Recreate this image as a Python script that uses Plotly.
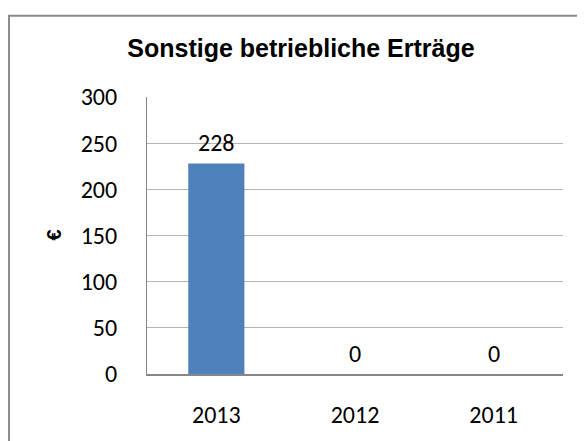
import plotly.graph_objects as go

categories = ["2013", "2012", "2011"]
values = [228, 0, 0]
title_text = "Sonstige betriebliche Erträge"
y_label = "€"
y_ticks = [0, 50, 100, 150, 200, 250, 300]

# page body has an 8px margin, so the figure is drawn 8px smaller and offset
W, H = 577, 433
L, R, T, B = 139, 555, 89, 375
FONT = "Carlito, Lato, Open Sans, sans-serif"
FS = 24

fig = go.Figure()
fig.add_trace(go.Bar(
    x=categories, y=values,
    marker=dict(color="#4F81BD", line=dict(width=0)),
    width=0.405,
    hoverinfo="skip",
))

for i, v in enumerate(values):
    fig.add_annotation(x=i, y=v, xref="x", yref="y", text=str(v), showarrow=False,
                       yshift=21, font=dict(family=FONT, size=FS, color="#000000"))

fig.add_annotation(xref="paper", yref="paper", x=(45 - L) / (R - L), y=(B - 232) / (B - T),
                   xanchor="center", yanchor="middle",
                   text="<b>" + y_label + "</b>", showarrow=False, textangle=-90,
                   font=dict(family="Liberation Sans", size=20, color="#000000"))

# outer border
fig.add_shape(type="rect", xref="paper", yref="paper",
              x0=(1 - L) / (R - L), x1=(600 - L) / (R - L),
              y0=(B - 460) / (B - T), y1=(B - 5) / (B - T),
              line=dict(color="#8c8c8c", width=2), fillcolor="rgba(0,0,0,0)", layer="below")

fig.update_layout(
    width=W, height=H,
    margin=dict(l=L, r=W - R, t=T, b=H - B),
    paper_bgcolor="white", plot_bgcolor="white",
    showlegend=False,
    title=dict(text="<b>" + title_text + "</b>", xref="paper", x=(293 - L) / (R - L), xanchor="center",
               yref="container", y=1 - 40 / H, yanchor="middle",
               font=dict(family="Liberation Sans", size=25, color="#000000")),
    xaxis=dict(type="category", showgrid=False, showline=True, linecolor="#868686", linewidth=2,
               ticks="", ticklabelstandoff=18, tickfont=dict(family=FONT, size=FS, color="#000000"),
               range=[-0.5, 2.5]),
    yaxis=dict(range=[0, 300], tickvals=y_ticks, showgrid=True, gridcolor="#b4b4b4", gridwidth=1,
               showline=True, linecolor="#868686", linewidth=1, zeroline=False,
               ticks="", ticklabelstandoff=24, tickfont=dict(family=FONT, size=FS, color="#000000")),
)

fig.write_html("out.html")
